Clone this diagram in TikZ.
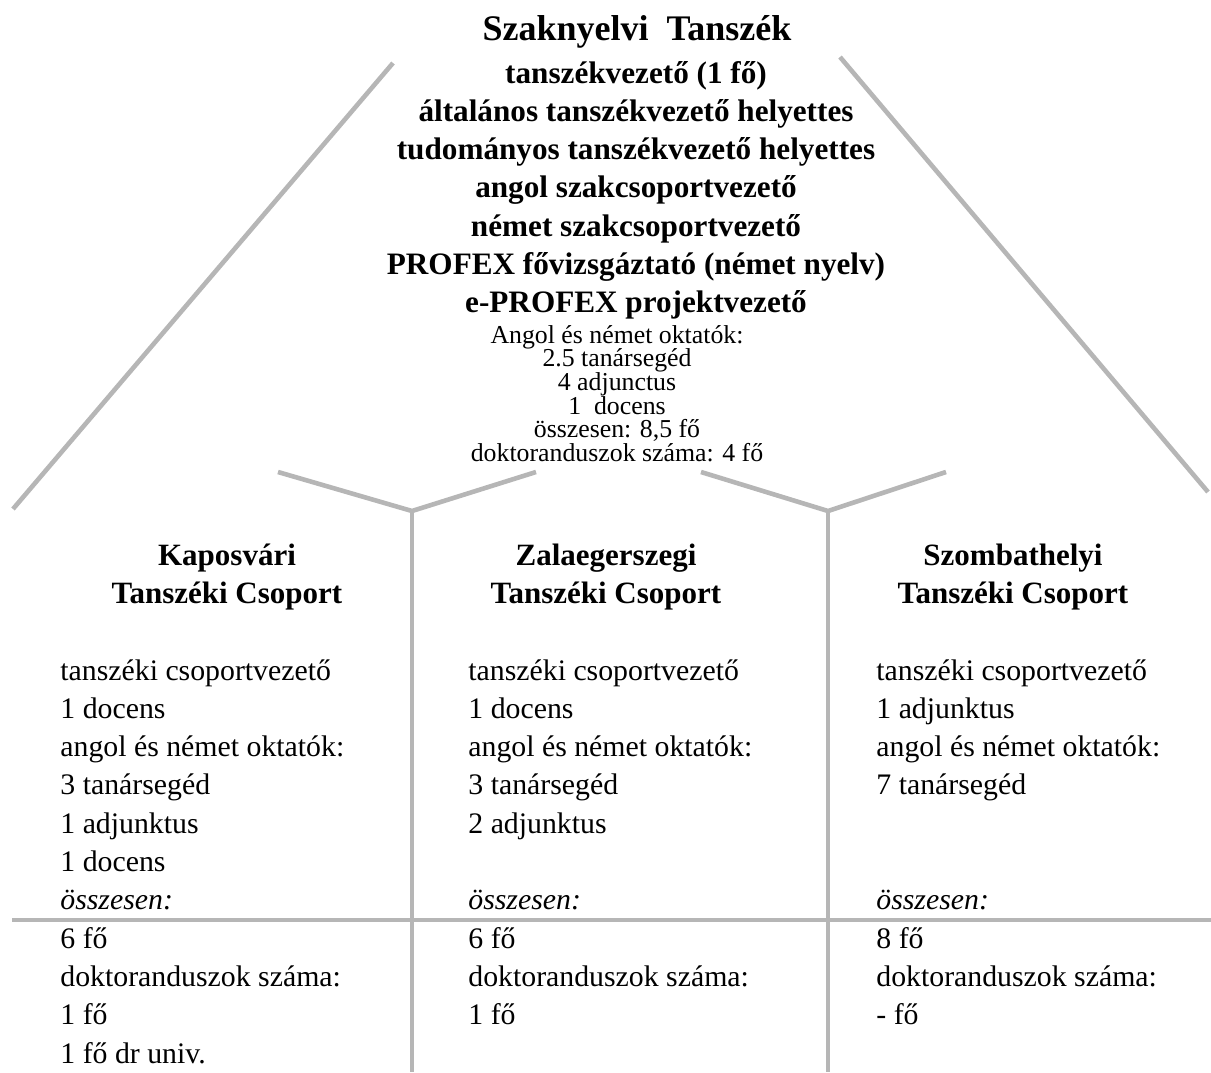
\documentclass[tikz,border=0pt]{standalone}
\usepackage{fontspec}
\setmainfont{Liberation Serif}
\usetikzlibrary{positioning}

\definecolor{linegray}{RGB}{182,182,182}

\begin{document}
\begin{tikzpicture}[x=0.5pt, y=-0.5pt,
    roof/.style={draw=linegray, line width=2.3pt},
    head/.style={font=\fontsize{18}{22}\selectfont\bfseries, anchor=base, inner sep=0pt},
    role/.style={font=\fontsize{15.6}{19}\selectfont\bfseries, anchor=base, inner sep=0pt},
    staff/.style={font=\fontsize{12.9}{15}\selectfont, anchor=base, inner sep=0pt},
    group/.style={font=\fontsize{15.5}{18}\selectfont\bfseries, anchor=base, inner sep=0pt},
    member/.style={font=\fontsize{14.9}{18}\selectfont, anchor=base west, inner sep=0pt}
    ]
    \useasboundingbox (0,0) rectangle (1211,1072);

    % roof and forks
    \coordinate (roofL top)  at (393,63);
    \coordinate (roofL foot) at (13,509);
    \coordinate (roofR top)  at (840,57);
    \coordinate (roofR foot) at (1208,492);
    \coordinate (forkA)   at (412,511);
    \coordinate (forkA l) at (278,472);
    \coordinate (forkA r) at (536,472);
    \coordinate (forkA end) at (412,1072);
    \coordinate (forkB)   at (828,511);
    \coordinate (forkB l) at (701,472);
    \coordinate (forkB r) at (946,472);
    \coordinate (forkB end) at (828,1072);
    \coordinate (sum l) at (12,920);
    \coordinate (sum r) at (1211,920);

    \draw[roof] (roofL top) -- (roofL foot);
    \draw[roof] (roofR top) -- (roofR foot);
    \draw[roof] (forkA l) -- (forkA) -- (forkA r);
    \draw[roof] (forkA) -- (forkA end);
    \draw[roof] (forkB l) -- (forkB) -- (forkB r);
    \draw[roof] (forkB) -- (forkB end);
    \draw[roof] (sum l) -- (sum r);

    % department
    \node[head] (dept) at (637,40) {Szaknyelvi\ \ Tanszék};
    \foreach \i/\txt in {1/tanszékvezető (1 fő),
                         2/általános tanszékvezető helyettes,
                         3/tudományos tanszékvezető helyettes,
                         4/angol szakcsoportvezető,
                         5/német szakcsoportvezető,
                         6/PROFEX fővizsgáztató (német nyelv),
                         7/e-PROFEX projektvezető}
        \node[role] (role\i) at (636,{83+38.3*(\i-1)}) {\txt};
    \foreach \i/\txt in {1/Angol és német oktatók:,
                         2/2.5 tanársegéd,
                         3/4 adjunctus,
                         4/1\ \ docens,
                         5/{összesen: 8,5 fő},
                         6/doktoranduszok száma: 4 fő}
        \node[staff] (staff\i) at (617,{343+23.7*(\i-1)}) {\txt};

    % groups
    \node[group] (kap)  at (227,565) {Kaposvári};
    \node[group] (kapt) at (227,603) {Tanszéki Csoport};
    \node[group] (zal)  at (606,565) {Zalaegerszegi};
    \node[group] (zalt) at (606,603) {Tanszéki Csoport};
    \node[group] (szo)  at (1013,565) {Szombathelyi};
    \node[group] (szot) at (1013,603) {Tanszéki Csoport};

    \foreach \i/\txt in {1/tanszéki csoportvezető, 2/1 docens,
                         3/angol és német oktatók:, 4/3 tanársegéd,
                         5/1 adjunktus, 6/1 docens, 7/\textit{összesen:},
                         8/6 fő, 9/doktoranduszok száma:, 10/1 fő,
                         11/1 fő dr univ.}
        \node[member] (kap\i) at (60,{680+38.3*(\i-1)}) {\txt};
    \foreach \i/\txt in {1/tanszéki csoportvezető, 2/1 docens,
                         3/angol és német oktatók:, 4/3 tanársegéd,
                         5/2 adjunktus, 7/\textit{összesen:},
                         8/6 fő, 9/doktoranduszok száma:, 10/1 fő}
        \node[member] (zal\i) at (468,{680+38.3*(\i-1)}) {\txt};
    \foreach \i/\txt in {1/tanszéki csoportvezető, 2/1 adjunktus,
                         3/angol és német oktatók:, 4/7 tanársegéd,
                         7/\textit{összesen:},
                         8/8 fő, 9/doktoranduszok száma:, 10/- fő}
        \node[member] (szo\i) at (876,{680+38.3*(\i-1)}) {\txt};
\end{tikzpicture}
\end{document}
